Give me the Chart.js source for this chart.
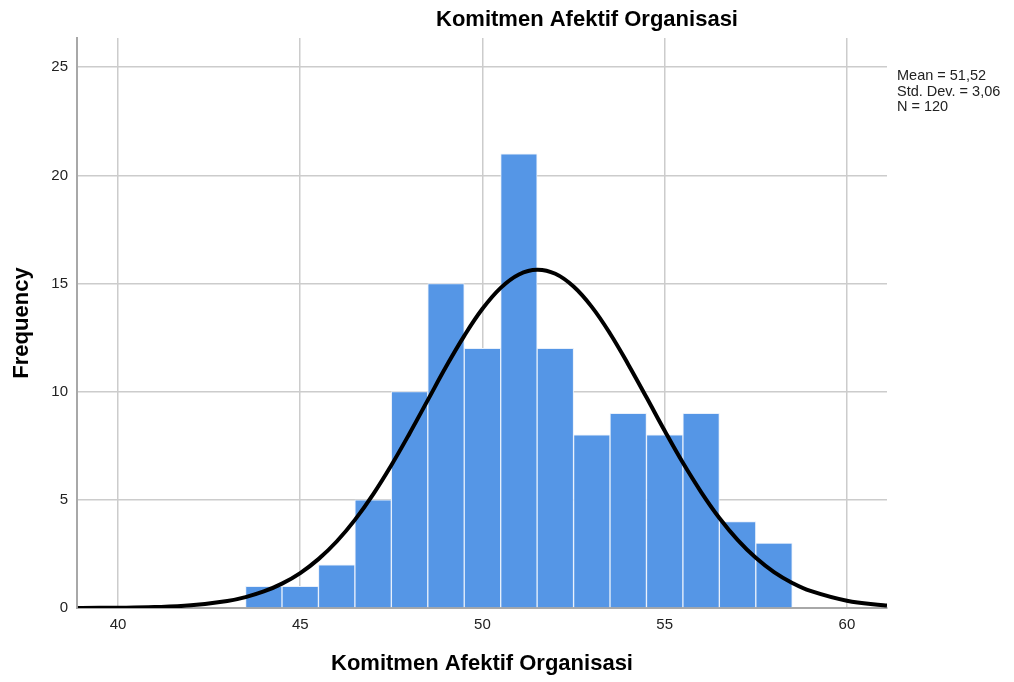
<!DOCTYPE html>
<html>
<head>
<meta charset="utf-8">
<script src="https://cdn.jsdelivr.net/npm/chart.js@4"></script>
<style>
  body { margin: 0; background: #fff; }
  #wrap { width: 1014px; height: 682px; }
</style>
</head>
<body>
<div id="wrap"><canvas id="myChart" width="1014" height="682"></canvas></div>
<script>
// histogram bins (center of each 1-point bin) and counts
const binCenters = [44, 45, 46, 47, 48, 49, 50, 51, 52, 53, 54, 55, 56, 57, 58];
const frequencies = [1, 1, 2, 5, 10, 15, 12, 21, 12, 8, 9, 8, 9, 4, 3];

// normal curve
const curveX = [38.9, 39, 40, 41, 42, 43, 43.5, 44, 44.5, 45, 45.5, 46, 46.5, 47, 47.5, 48, 48.5, 49, 49.5, 50, 50.5,
  51, 51.5, 52, 52.5, 53, 53.5, 54, 54.5, 55, 55.5, 56, 56.5, 57, 57.5, 58, 58.5, 59, 60, 61, 61.1];
const curveY = [0.003, 0.004, 0.013, 0.042, 0.124, 0.324, 0.504, 0.763, 1.126, 1.616, 2.259, 3.074, 4.074, 5.255, 6.60,
  8.07, 9.61, 11.15, 12.58, 13.83, 14.80, 15.42, 15.64, 15.45, 14.86, 13.92, 12.69, 11.26, 9.74, 8.19, 6.71, 5.36,
  4.16, 3.15, 2.32, 1.66, 1.16, 0.789, 0.336, 0.129, 0.117];

const xTicks = [40, 45, 50, 55, 60];
const yTicks = [0, 5, 10, 15, 20, 25];
const statsText = ['Mean = 51,52', 'Std. Dev. = 3,06', 'N = 120'];
const chartTitle = 'Komitmen Afektif Organisasi';
const xTitle = 'Komitmen Afektif Organisasi';
const yTitle = 'Frequency';

const FONT = '"Liberation Sans", Arial, sans-serif';

// titles and the stats box are drawn by hand like SPSS places them
const textPlugin = {
    id: 'spssText',
    afterDraw(chart) {
        const ctx = chart.ctx;
        const area = chart.chartArea;
        ctx.save();
        ctx.fillStyle = '#000';
        ctx.textAlign = 'center';
        ctx.textBaseline = 'middle';
        ctx.font = 'bold 22px ' + FONT;
        ctx.fillText(chartTitle, 587, 20);
        ctx.fillText(xTitle, (area.left + area.right) / 2, 664);
        ctx.translate(22, 323);
        ctx.rotate(-Math.PI / 2);
        ctx.fillText(yTitle, 0, 0);
        ctx.restore();

        ctx.save();
        ctx.fillStyle = '#222';
        ctx.font = '14.5px ' + FONT;
        ctx.textAlign = 'left';
        ctx.textBaseline = 'middle';
        statsText.forEach((t, i) => ctx.fillText(t, 897, 76 + i * 15.5));
        ctx.restore();
    }
};

const ctx = document.getElementById('myChart').getContext('2d');
new Chart(ctx, {
    type: 'bar',
    data: {
        datasets: [{
            type: 'line',
            data: curveX.map((x, i) => ({ x: x, y: curveY[i] })),
            borderColor: '#000',
            borderWidth: 4,
            pointRadius: 0,
            tension: 0.4,
            fill: false,
            order: 0
        }, {
            type: 'bar',
            data: binCenters.map((x, i) => ({ x: x, y: frequencies[i] })),
            backgroundColor: '#5596e6',
            borderColor: '#e8f0fb',
            borderWidth: 1,
            barPercentage: 1,
            categoryPercentage: 1,
            order: 1
        }]
    },
    options: {
        responsive: false,
        animation: false,
        layout: { padding: { top: 38, right: 127, left: 0, bottom: 0 } },
        plugins: { legend: { display: false }, tooltip: { enabled: false } },
        scales: {
            x: {
                type: 'linear',
                min: 38.875,
                max: 61.1,
                offset: false,
                afterBuildTicks: s => { s.ticks = xTicks.map(v => ({ value: v })); },
                afterFit: s => { s.height = 74; },
                ticks: { color: '#222', font: { family: FONT, size: 15 }, padding: 8 },
                grid: { color: '#cccccc', lineWidth: 1.5, drawTicks: false, offset: false },
                border: { display: true, color: '#a8a8a8', width: 2 }
            },
            y: {
                min: 0,
                max: 26.35,
                afterBuildTicks: s => { s.ticks = yTicks.map(v => ({ value: v })); },
                afterFit: s => { s.width = 77; },
                ticks: { color: '#222', font: { family: FONT, size: 15 }, padding: 9 },
                grid: { color: '#cccccc', lineWidth: 1.5, drawTicks: false },
                border: { display: true, color: '#a8a8a8', width: 2 }
            }
        }
    },
    plugins: [textPlugin]
});
</script>
</body>
</html>
